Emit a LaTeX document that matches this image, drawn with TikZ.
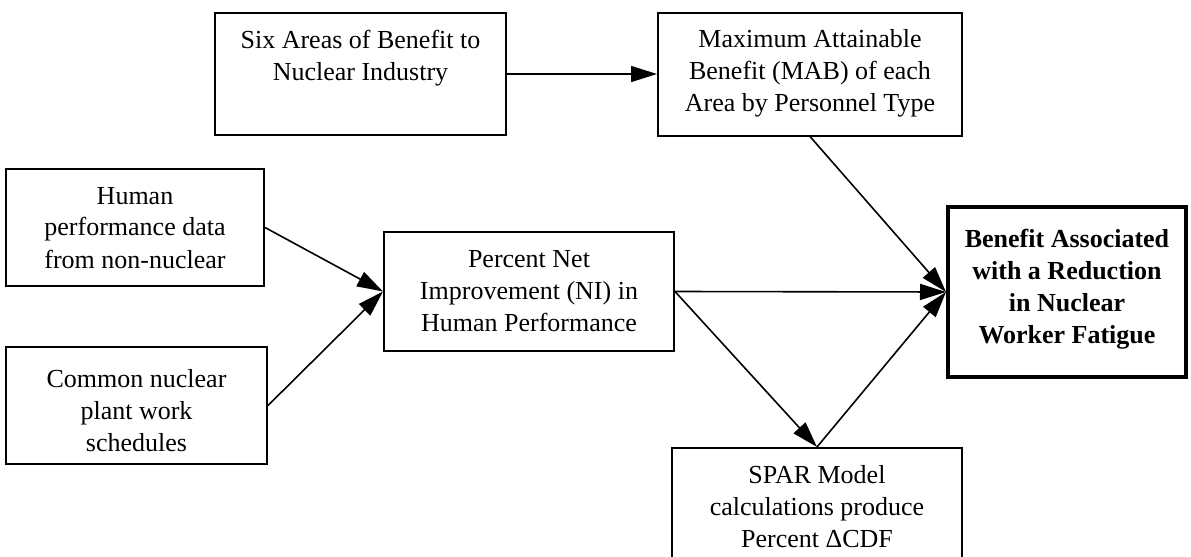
\documentclass[tikz,border=0pt]{standalone}
\usepackage{fontspec}
\setmainfont{Liberation Serif}
\usetikzlibrary{arrows.meta}
\tikzstyle{block}=[draw, line width=1pt, inner sep=0pt]
\tikzstyle{goal}=[block, line width=2pt]
\tikzstyle{flow}=[-{Triangle[length=13pt,width=8pt]}, line width=0.8pt]
\newcommand{\boxtext}[4][17.5pt]{\parbox[c][#3][t]{#2}{\centering\fontsize{13pt}{16pt}\selectfont\rule{0pt}{#1}#4}}

\begin{document}
\begin{tikzpicture}[x=0.5pt,y=-0.5pt]
  \useasboundingbox (0,0) rectangle (1191,557);
  \clip (0,0) rectangle (1191,557);
  % boxes, positions in pixels of the page
  \node[block] (areas) at (360.5,74) {\boxtext{145.5pt}{61pt}{Six Areas of Benefit to\\Nuclear Industry}};
  \node[block] (mab) at (810,74) {\boxtext{152pt}{61.5pt}{Maximum Attainable\\Benefit (MAB) of each\\Area by Personnel Type}};
  \node[block] (human) at (135,227.5) {\boxtext{129pt}{58.5pt}{Human\\performance data\\from non-nuclear}};
  \node[block] (common) at (136.5,405.5) {\boxtext[20pt]{130.5pt}{58.5pt}{Common nuclear\\plant work\\schedules}};
  \node[block] (ni) at (529,291.5) {\boxtext{145pt}{59.5pt}{Percent Net\\Improvement (NI) in\\Human Performance}};
  \node[goal] (benefit) at (1067,292) {\boxtext[20pt]{119pt}{85pt}{\bfseries Benefit Associated\\with a Reduction\\in Nuclear\\Worker Fatigue}};
  \node[block] (spar) at (817,507.5) {\boxtext{145pt}{59.5pt}{SPAR Model\\calculations produce\\Percent ΔCDF}};
  % connectors
  \draw[flow] (areas.east) -- (mab.west);
  \draw[flow] (mab.south) -- (benefit.west);
  \draw[flow] (human.east) -- (ni.west);
  \draw[flow] (common.east) -- (ni.west);
  \draw[flow] (ni.east) -- (benefit.west);
  \draw[flow] (ni.east) -- (spar.north);
  \draw[flow] (spar.north) -- (benefit.west);
\end{tikzpicture}
\end{document}
